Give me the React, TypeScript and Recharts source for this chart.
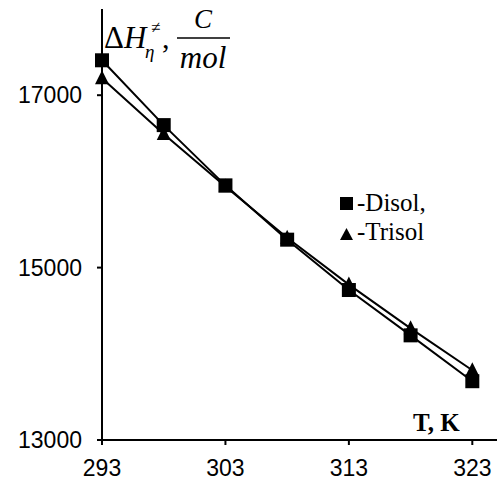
import React from 'react';
import { LineChart, Line, XAxis, YAxis, Customized } from 'recharts';

const temps = [293, 298, 303, 308, 313, 318, 323];
const disol = [17405, 16653, 15954, 15324, 14740, 14214, 13682];
const trisol = [17197, 16549, 15940, 15347, 14803, 14295, 13809];
const xTicks = [293, 303, 313, 323];
const yTicks = [13000, 15000, 17000];

const data = temps.map((t, i) => ({ t, disol: disol[i], trisol: trisol[i] }));

const SERIF = 'Liberation Serif, serif';
const SANS = 'Liberation Sans, Arial, sans-serif';

const Square = (props: any) => {
  const { cx, cy, index } = props;
  return <rect key={`s${index}`} x={cx - 7} y={cy - 7} width={14} height={14} fill="#000" />;
};

const Triangle = (props: any) => {
  const { cx, cy, index } = props;
  return (
    <polygon
      key={`t${index}`}
      points={`${cx - 7},${cy + 6} ${cx + 7},${cy + 6} ${cx},${cy - 8}`}
      fill="#000"
    />
  );
};

const Texts = () => (
  <g>
    <text x={104} y={48} fontFamily={SERIF} fontSize={31} fill="#000">
      <tspan>Δ</tspan>
      <tspan fontStyle="italic">H</tspan>
    </text>
    <text x={151} y={33} fontFamily={SERIF} fontSize={17} fill="#000">≠</text>
    <text x={145} y={58} fontFamily={SERIF} fontSize={19} fontStyle="italic" fill="#000">η</text>
    <text x={162} y={48} fontFamily={SERIF} fontSize={30} fill="#000">,</text>
    <line x1={177} y1={38} x2={230} y2={38} stroke="#000" strokeWidth={1.5} />
    <text x={203} y={28} textAnchor="middle" fontFamily={SERIF} fontSize={27} fontStyle="italic" fill="#000">C</text>
    <text x={203} y={68} textAnchor="middle" fontFamily={SERIF} fontSize={31} fontStyle="italic" fill="#000">mol</text>

    <rect x={340} y={197} width={13} height={13} fill="#000" />
    <text x={357} y={211} fontFamily={SERIF} fontSize={25} fill="#000">-Disol,</text>
    <polygon points="340,240 353,240 346.5,228" fill="#000" />
    <text x={357} y={240} fontFamily={SERIF} fontSize={25} fill="#000">-Trisol</text>

    <text x={413} y={431} fontFamily={SERIF} fontSize={25} fontWeight="bold" fill="#000">T, K</text>
  </g>
);

export default function App() {
  return (
    <div style={{ position: 'absolute', left: 0, top: 0, width: 503, height: 491, background: '#fff' }}>
      <LineChart width={503} height={491} data={data} margin={{ top: 9, right: 6, bottom: 0, left: 0 }}>
        <XAxis
          dataKey="t"
          type="number"
          domain={[293, 325]}
          ticks={xTicks}
          height={51}
          tickSize={5}
          tickMargin={15}
          axisLine={{ stroke: '#000', strokeWidth: 2 }}
          tickLine={{ stroke: '#000', strokeWidth: 2 }}
          tick={{ fill: '#000', fontFamily: SANS, fontSize: 23 }}
        />
        <YAxis
          type="number"
          domain={[13000, 18000]}
          ticks={yTicks}
          width={102}
          tickSize={5}
          tickMargin={15}
          axisLine={{ stroke: '#000', strokeWidth: 2 }}
          tickLine={{ stroke: '#000', strokeWidth: 2 }}
          tick={{ fill: '#000', fontFamily: SANS, fontSize: 23 }}
        />
        <Line
          dataKey="trisol"
          stroke="#000"
          strokeWidth={2}
          dot={Triangle}
          activeDot={false}
          isAnimationActive={false}
        />
        <Line
          dataKey="disol"
          stroke="#000"
          strokeWidth={2}
          dot={Square}
          activeDot={false}
          isAnimationActive={false}
        />
        <Customized component={Texts} />
      </LineChart>
    </div>
  );
}
